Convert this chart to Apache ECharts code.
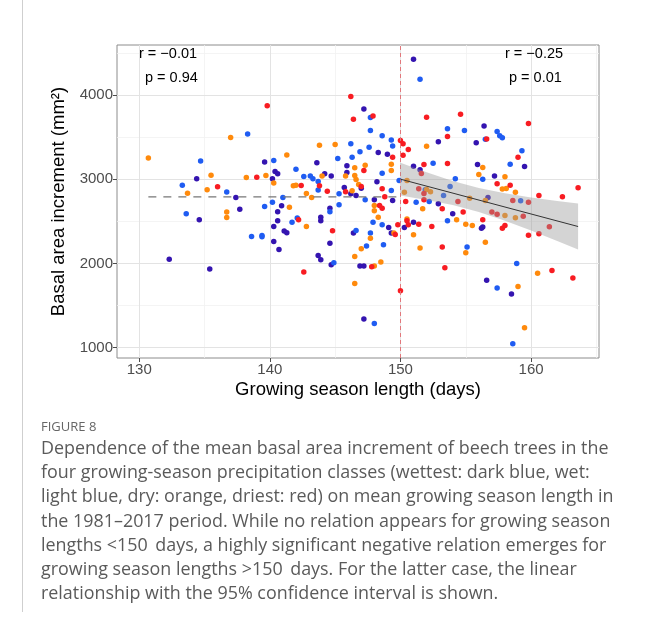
<!DOCTYPE html>
<html>
<head>
<meta charset="utf-8">
<script src="https://cdn.jsdelivr.net/npm/echarts@6/dist/echarts.min.js"></script>
<style>
  html, body { margin: 0; padding: 0; background: #fff; }
  #chart { width: 645px; height: 630px; }
</style>
</head>
<body>
<div id="chart"></div>
<script>
// growing season length (days), basal area increment (mm2) per precipitation class
var wettest = [
  [134.4,3004],[137.4,2782],[134.6,2518],[137.7,2644],[132.3,2051],[135.4,1933],[147.2,3834],[148.3,3316],
  [149.0,3297],[139.6,3205],[143.6,3194],[145.9,3158],[140.4,3091],[140.6,3063],[140.2,3004],[144.2,3063],
  [144.7,3039],[145.9,3079],[148.2,2968],[147.0,2893],[145.7,2901],[146.2,2826],[146.6,2806],[148.0,2755],
  [149.4,2746],[140.9,2684],[140.6,2612],[140.6,2506],[140.3,2438],[141.1,2384],[141.3,2363],[140.3,2260],
  [140.7,2165],[143.9,2549],[143.9,2506],[144.6,2656],[144.6,2241],[143.7,2094],[143.9,2043],[144.7,1984],
  [146.4,2360],[146.9,1969],[147.2,1969],[147.2,1340],[149.1,2426],[149.3,2360],[151.0,4423],[156.4,3632],
  [152.9,3443],[155.8,3431],[151.0,3154],[151.5,3111],[155.9,3174],[157.2,3039],[159.5,3150],[156.7,2782],
  [152.9,2707],[154.0,2589],[156.2,2419],[156.3,2431],[151.0,2490],[150.3,2426],[156.6,1802],[158.5,1636]
];
var wet = [
  [138.3,3537],[134.7,3217],[133.3,2929],[136.7,2849],[133.6,2589],[138.6,2320],[147.7,3731],[147.7,3577],
  [148.6,3514],[149.3,3466],[149.4,3395],[146.2,3419],[147.6,3380],[145.2,3245],[146.3,3261],[146.9,3324],
  [140.3,3221],[142.0,3119],[142.6,3031],[143.1,3039],[143.3,3004],[143.7,2972],[148.6,3071],[149.9,2984],
  [143.7,2870],[145.3,2826],[149.3,2865],[141.0,2782],[147.3,2755],[139.6,2675],[140.2,2727],[141.7,2490],
  [142.1,2538],[139.4,2331],[139.4,2316],[144.6,2612],[144.9,2008],[146.6,2390],[147.4,2206],[148.0,1288],
  [147.9,2490],[147.7,2360],[148.7,2221],[148.6,2458],[145.3,2695],[151.5,4186],[153.6,3597],[154.9,3577],
  [157.4,3565],[157.6,3514],[157.8,3490],[156.5,3475],[159.3,3336],[152.5,3190],[156.3,3000],[158.4,3178],
  [154.2,3004],[153.8,2913],[153.3,2806],[151.9,2873],[152.2,2735],[151.2,2727],[153.6,2506],[155.1,2194],
  [159.2,2743],[158.9,2000],[157.4,1708],[158.6,1047]
];
var dry = [
  [130.7,3250],[137.0,3494],[135.5,3047],[138.2,3020],[133.7,2834],[135.2,2873],[136.7,2609],[136.7,2545],
  [143.8,3403],[145.0,3411],[141.3,3288],[147.3,3166],[146.5,3134],[149.3,3178],[149.3,3102],[139.7,3043],
  [140.3,2956],[144.0,3039],[141.8,2921],[142.0,2929],[142.8,2830],[143.2,2782],[145.8,3039],[146.5,3043],
  [146.6,2996],[146.8,2936],[146.3,2862],[141.5,2668],[142.8,2438],[147.0,2174],[146.5,2082],[148.0,1969],
  [148.5,2016],[146.5,1762],[147.7,2300],[149.5,2360],[148.0,2687],[148.0,2624],[148.3,2549],[152.0,3392],
  [156.3,3138],[156.0,3055],[158.0,3028],[157.8,2882],[158.1,2889],[158.8,2846],[150.5,2984],[150.3,2846],
  [152.0,2877],[152.3,2850],[155.3,2775],[156.5,2746],[151.7,2648],[154.3,2518],[155.0,2466],[155.5,2450],
  [156.5,2252],[150.5,2526],[151.0,2340],[151.5,2182],[155.0,2126],[158.0,2569],[158.8,2541],[160.5,1885],
  [159.0,1727],[159.5,1237]
];
var driest = [
  [136.0,2909],[139.0,3024],[139.8,3870],[146.2,3980],[146.4,3712],[147.9,3751],[150.0,3458],[149.4,3261],
  [147.2,3102],[143.8,2921],[142.4,2925],[144.4,2858],[147.0,2913],[145.8,2850],[148.6,2885],[148.8,2790],
  [142.2,2518],[144.8,2387],[142.6,1897],[147.8,1960],[149.6,2343],[149.8,2458],[150.0,1675],[148.4,2687],
  [148.6,2656],[152.0,3735],[154.6,3771],[159.8,3660],[153.6,3506],[156.6,3478],[150.2,3419],[150.6,3351],
  [150.2,3285],[159.0,3261],[151.6,3067],[151.8,3174],[153.6,3185],[157.4,2945],[158.4,2929],[163.6,2897],
  [162.4,2790],[160.6,2806],[151.4,2885],[151.8,2830],[151.8,2755],[150.4,2735],[153.2,2648],[154.4,2735],
  [154.8,2609],[156.3,2518],[150.5,2506],[150.6,2458],[151.4,2466],[152.4,2438],[153.2,2194],[158.6,2746],
  [159.8,2727],[157.0,2609],[157.4,2585],[159.4,2561],[161.4,2435],[159.8,2336],[160.6,2352],[157.8,2419],
  [158.0,2450],[153.4,1948],[161.6,1916],[163.2,1826]
];

// mean line (<150 days) and linear fit with 95% CI (>150 days)
var meanX = [130.7, 150];
var meanY = [2790, 2790];
var fitX = [150, 163.6];
var fitY = [3000, 2438];
var bandX = [150, 152, 154, 156, 158, 160, 162, 163.6];
var bandUpper = [3195, 3082, 2978, 2894, 2832, 2782, 2741, 2711];
var bandLower = [2805, 2752, 2692, 2610, 2508, 2392, 2267, 2165];

var xTicks = [130, 140, 150, 160];
var yTicks = [1000, 2000, 3000, 4000];
var xMinor = [135, 145, 155, 165];
var yMinor = [1500, 2500, 3500, 4500];

var caption = [
  'Dependence of the mean basal area increment of beech trees in the',
  'four growing-season precipitation classes (wettest: dark blue, wet:',
  'light blue, dry: orange, driest: red) on mean growing season length in',
  'the 1981\u20132017 period. While no relation appears for growing season',
  'lengths <150\u2009 days, a highly significant negative relation emerges for',
  'growing season lengths >150\u2009 days. For the latter case, the linear',
  'relationship with the 95% confidence interval is shown.'
];

var chart = echarts.init(document.getElementById('chart'), null, { renderer: 'canvas' });

var classes = [
  { name: 'wettest', data: wettest, color: '#3414b0' },
  { name: 'wet', data: wet, color: '#1f5cf2' },
  { name: 'dry', data: dry, color: '#ff8a0c' },
  { name: 'driest', data: driest, color: '#f81c22' }
];

// grid lines drawn as marklines so they sit on the round values
var gridLines = [];
xMinor.forEach(function (v) { gridLines.push({ xAxis: v, lineStyle: { color: '#f1f1f1', width: 0.8 } }); });
yMinor.forEach(function (v) { gridLines.push({ yAxis: v, lineStyle: { color: '#f1f1f1', width: 0.8 } }); });
xTicks.forEach(function (v) { gridLines.push({ xAxis: v, lineStyle: { color: '#e3e3e3', width: 1 } }); });
yTicks.forEach(function (v) { gridLines.push({ yAxis: v, lineStyle: { color: '#e3e3e3', width: 1 } }); });

var series = [];
series.push({
  type: 'line',
  name: 'grid',
  data: [],
  silent: true,
  z: 0,
  markLine: {
    silent: true,
    z: 0,
    symbol: 'none',
    label: { show: false },
    animation: false,
    lineStyle: { type: 'solid' },
    data: gridLines
  }
});

classes.forEach(function (c) {
  series.push({
    type: 'scatter',
    name: c.name,
    data: c.data,
    symbolSize: 5.5,
    itemStyle: { color: c.color, opacity: 1 },
    z: 3
  });
});

series.push({
  type: 'line',
  name: 'mean',
  data: meanX.map(function (x, i) { return [x, meanY[i]]; }),
  symbol: 'none',
  z: 4,
  lineStyle: { color: '#777777', width: 1.3, type: [8, 7] },
  markLine: {
    silent: true,
    z: 4,
    symbol: 'none',
    label: { show: false },
    animation: false,
    lineStyle: { color: '#e2787c', width: 1, type: [4, 3] },
    data: [{ xAxis: 150 }]
  }
});

series.push({
  type: 'custom',
  name: 'ci',
  z: 5,
  data: [0],
  renderItem: function (params, api) {
    var points = [];
    for (var i = 0; i < bandX.length; i++) points.push(api.coord([bandX[i], bandUpper[i]]));
    for (var j = bandX.length - 1; j >= 0; j--) points.push(api.coord([bandX[j], bandLower[j]]));
    return {
      type: 'polygon',
      shape: { points: points },
      style: { fill: 'rgba(153,153,153,0.42)', stroke: null }
    };
  }
});

series.push({
  type: 'line',
  name: 'fit',
  data: fitX.map(function (x, i) { return [x, fitY[i]]; }),
  symbol: 'none',
  z: 6,
  lineStyle: { color: '#333333', width: 1 }
});

var labelColor = '#4d4d4d';
var plain = function (v) { return String(v); };

var option = {
  animation: false,
  backgroundColor: '#ffffff',
  grid: {
    left: 117, top: 45, width: 482, height: 313,
    show: true, borderColor: '#8c8c8c', borderWidth: 1, backgroundColor: 'transparent',
    containLabel: false
  },
  xAxis: {
    type: 'value',
    min: 128.3,
    max: 165.2,
    name: 'Growing season length (days)',
    nameLocation: 'middle',
    nameGap: 22,
    nameTextStyle: { fontFamily: 'Liberation Sans', fontSize: 18.5, color: '#000' },
    axisLine: { show: false },
    axisTick: { show: true, length: 4, customValues: xTicks, lineStyle: { color: '#4d4d4d' } },
    axisLabel: { customValues: xTicks, formatter: plain, fontFamily: 'Liberation Sans', fontSize: 15, color: labelColor, margin: 4 },
    splitLine: { show: false }
  },
  yAxis: {
    type: 'value',
    min: 878,
    max: 4592,
    name: 'Basal area increment (mm\u00b2)',
    nameLocation: 'middle',
    nameGap: 45,
    nameTextStyle: { fontFamily: 'Liberation Sans', fontSize: 18.5, color: '#000' },
    axisLine: { show: false },
    axisTick: { show: true, length: 4, customValues: yTicks, lineStyle: { color: '#4d4d4d' } },
    axisLabel: { customValues: yTicks, formatter: plain, fontFamily: 'Liberation Sans', fontSize: 15, color: labelColor, margin: 4 },
    splitLine: { show: false }
  },
  series: series,
  graphic: [
    { type: 'line', shape: { x1: 22.5, y1: 0, x2: 22.5, y2: 612 }, style: { stroke: '#cfcfcf', lineWidth: 1 } },
    { type: 'text', left: 139, top: 46, z: 10, style: { text: 'r = \u22120.01', fontFamily: 'Liberation Sans', fontSize: 14.5, fill: '#000' } },
    { type: 'text', left: 145, top: 70, z: 10, style: { text: 'p = 0.94', fontFamily: 'Liberation Sans', fontSize: 14.5, fill: '#000' } },
    { type: 'text', left: 505, top: 46, z: 10, style: { text: 'r = \u22120.25', fontFamily: 'Liberation Sans', fontSize: 14.5, fill: '#000' } },
    { type: 'text', left: 509, top: 70, z: 10, style: { text: 'p = 0.01', fontFamily: 'Liberation Sans', fontSize: 14.5, fill: '#000' } },
    { type: 'text', left: 41, top: 421, style: { text: 'FIGURE 8', fontFamily: 'Open Sans', fontSize: 13, fill: '#666666' } }
  ].concat(caption.map(function (line, i) {
    return { type: 'text', left: 41, top: 440 + i * 24.2, style: { text: line, fontFamily: 'Open Sans', fontSize: 17.9, fill: '#5a5a5a' } };
  }))
};

chart.setOption(option);
</script>
</body>
</html>
